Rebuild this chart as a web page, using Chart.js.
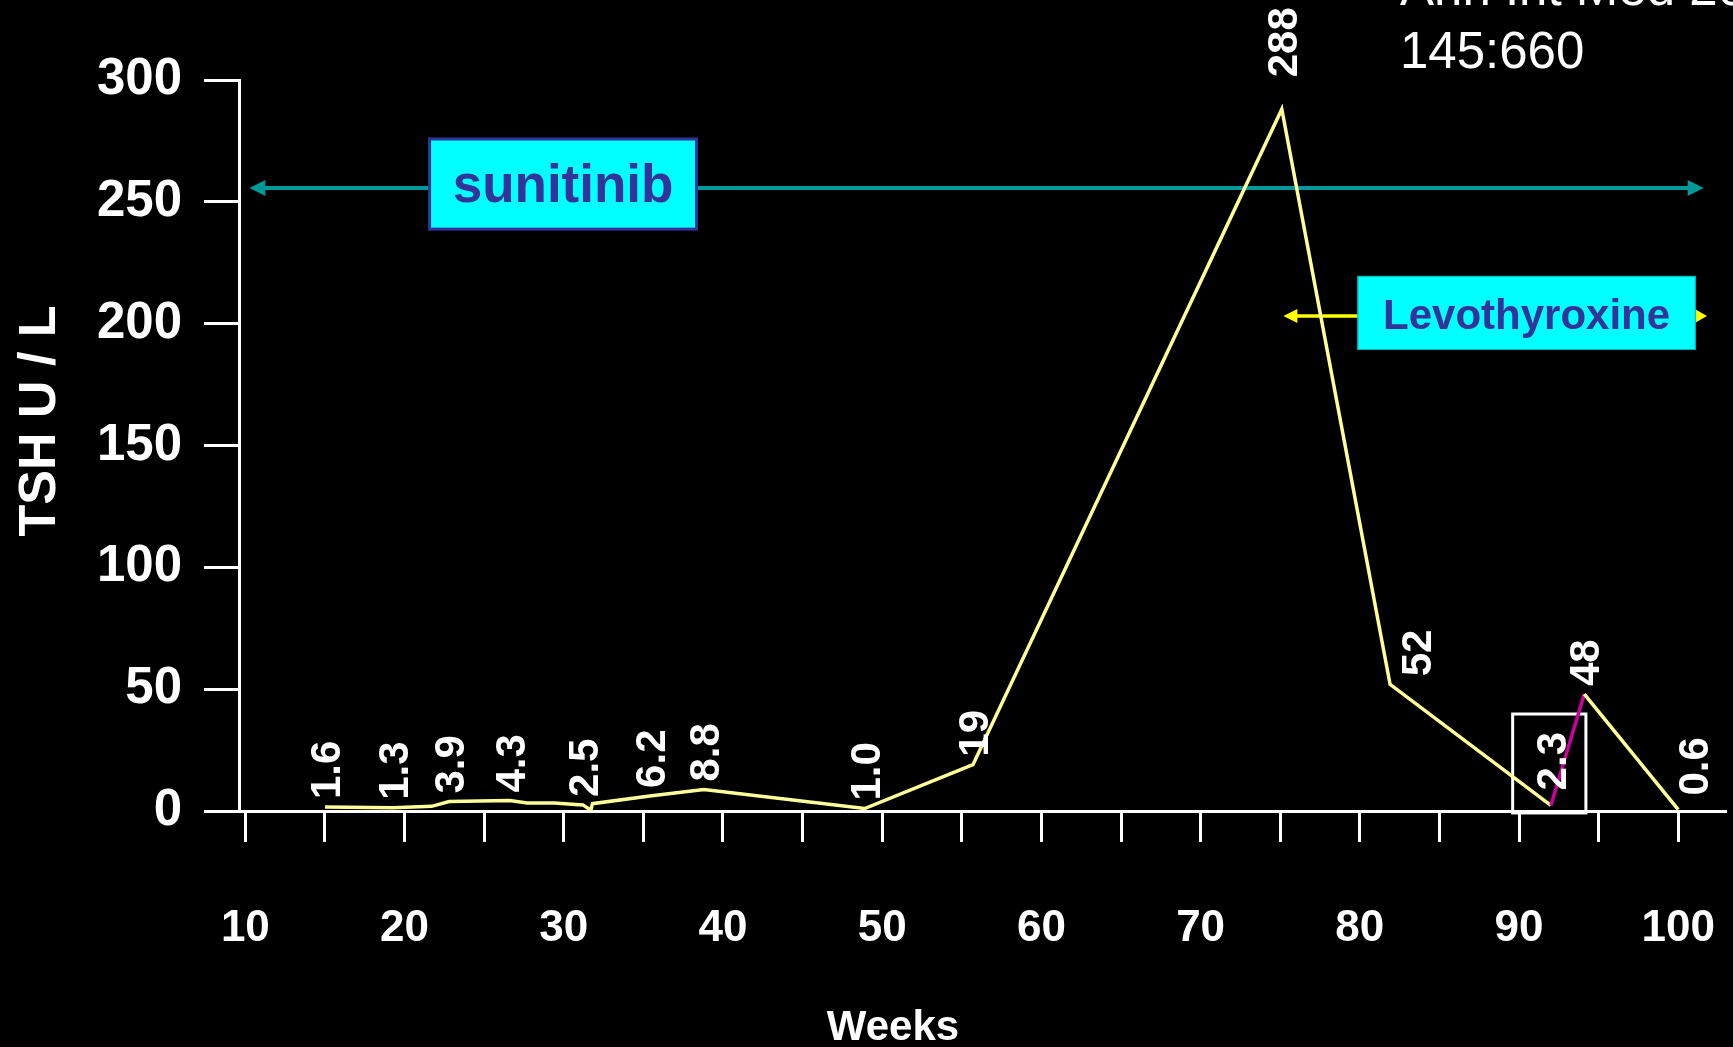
<!DOCTYPE html>
<html>
<head>
<meta charset="utf-8">
<script src="https://cdn.jsdelivr.net/npm/chart.js@4.4.1/dist/chart.umd.min.js"></script>
<style>
  html, body { margin: 0; padding: 0; background: #000; overflow: hidden; }
  #wrap { width: 1733px; height: 1047px; position: relative; }
</style>
</head>
<body>
<div id="wrap"><canvas id="c" width="1733" height="1047"></canvas></div>
<script>
// TSH readings over the course of treatment (weeks on therapy)
const weeks   = [15.0, 19.3, 21.7, 22.8, 26.6, 27.7, 29.4, 31.2, 31.7, 31.8, 35.4, 38.8, 48.9, 55.7, 75.1, 81.9, 92.0, 94.1, 100];
const tsh     = [1.6,  1.3,  1.9,  3.9,  4.3,  3.3,  3.3,  2.5,  0.3,  3.0,  6.2,  8.8,  1.0,  19,   288,  52,   2.3,  48,   0.6];
const tshText = ['1.6','1.3','',   '3.9','4.3','',   '',   '2.5','',   '',   '6.2','8.8','1.0','19', '288','52', '2.3','48', '0.6'];

// axis ticks
const xTickWeeks  = [10, 15, 20, 25, 30, 35, 40, 45, 50, 55, 60, 65, 70, 75, 80, 85, 90, 95, 100];
const xLabelWeeks = [10, 20, 30, 40, 50, 60, 70, 80, 90, 100];
const yTickValues = [0, 50, 100, 150, 200, 250, 300];

const FONT = '"Liberation Sans", Arial, Helvetica, sans-serif';
const YELLOW = '#ffff99';
const MAGENTA = '#cc00a0';
const CYAN = '#00ffff';
const NAVY = '#333399';

// the segment from the 2.3 reading up to the 48 reading is drawn in magenta
const riseIdx = tshText.indexOf('2.3');

function arrowHead(ctx, tipX, y, dir, len, half) {
  ctx.beginPath();
  ctx.moveTo(tipX, y);
  ctx.lineTo(tipX - dir * len, y - half);
  ctx.lineTo(tipX - dir * len, y + half);
  ctx.closePath();
  ctx.fill();
}

const overlay = {
  id: 'overlay',
  beforeDatasetsDraw(chart) {
    const { ctx, scales: { x, y } } = chart;
    ctx.save();

    // sunitinib treatment span
    const sy = y.getPixelForValue(255.7);
    const sx0 = x.getPixelForValue(10.25), sx1 = x.getPixelForValue(101.6);
    ctx.strokeStyle = '#009999';
    ctx.fillStyle = '#009999';
    ctx.lineWidth = 4;
    ctx.beginPath(); ctx.moveTo(sx0 + 10, sy); ctx.lineTo(sx1 - 10, sy); ctx.stroke();
    arrowHead(ctx, sx0, sy, -1, 16, 8);
    arrowHead(ctx, sx1, sy, 1, 16, 8);

    const bx0 = x.getPixelForValue(21.57), bx1 = x.getPixelForValue(38.34);
    const by0 = y.getPixelForValue(275.8), by1 = y.getPixelForValue(238.8);
    ctx.fillStyle = CYAN;
    ctx.fillRect(bx0, by0, bx1 - bx0, by1 - by0);
    ctx.strokeStyle = NAVY;
    ctx.lineWidth = 3;
    ctx.strokeRect(bx0, by0, bx1 - bx0, by1 - by0);
    ctx.fillStyle = NAVY;
    ctx.font = 'bold 53px ' + FONT;
    ctx.textAlign = 'center';
    ctx.textBaseline = 'alphabetic';
    ctx.fillText('sunitinib', (bx0 + bx1) / 2, by0 + 63);

    // levothyroxine span
    const ly = y.getPixelForValue(203.1);
    const lx0 = x.getPixelForValue(75.2), lx1 = x.getPixelForValue(101.8);
    ctx.strokeStyle = '#ffff00';
    ctx.fillStyle = '#ffff00';
    ctx.lineWidth = 3.5;
    ctx.beginPath(); ctx.moveTo(lx0 + 10, ly); ctx.lineTo(lx1 - 10, ly); ctx.stroke();
    arrowHead(ctx, lx0, ly, -1, 14, 7);
    arrowHead(ctx, lx1, ly, 1, 12, 7);

    const kx0 = x.getPixelForValue(79.85), kx1 = x.getPixelForValue(101.1);
    const ky0 = y.getPixelForValue(219.6), ky1 = y.getPixelForValue(189.2);
    ctx.fillStyle = CYAN;
    ctx.fillRect(kx0, ky0, kx1 - kx0, ky1 - ky0);
    ctx.strokeStyle = '#00b3b3';
    ctx.lineWidth = 1;
    ctx.strokeRect(kx0 + 0.5, ky0 + 0.5, kx1 - kx0 - 1, ky1 - ky0 - 1);
    ctx.fillStyle = NAVY;
    ctx.font = 'bold 42px ' + FONT;
    ctx.fillText('Levothyroxine', (kx0 + kx1) / 2, ky0 + 53);

    // highlight around the 2.3 reading
    const hx0 = x.getPixelForValue(89.6), hx1 = x.getPixelForValue(94.2);
    const hy0 = y.getPixelForValue(39.8), hy1 = y.getPixelForValue(-0.8);
    ctx.strokeStyle = '#ffffff';
    ctx.lineWidth = 3;
    ctx.strokeRect(hx0, hy0, hx1 - hx0, hy1 - hy0);

    ctx.restore();
  },
  afterDatasetsDraw(chart) {
    const { ctx } = chart;
    const meta = chart.getDatasetMeta(0);
    const nudge = { '52': [26, 0], '0.6': [15, -6], '288': [0, -24], '2.3': [0, -7] };
    ctx.save();
    ctx.fillStyle = '#ffffff';
    ctx.font = 'bold 42px ' + FONT;
    ctx.textAlign = 'left';
    ctx.textBaseline = 'alphabetic';
    tshText.forEach((t, i) => {
      if (!t) return;
      const p = meta.data[i];
      const [dx, dy] = nudge[t] || [0, 0];
      ctx.save();
      ctx.translate(p.x + 15 + dx, p.y - 8 + dy);
      ctx.rotate(-Math.PI / 2);
      ctx.fillText(t, 0, 0);
      ctx.restore();
    });

    // axis titles
    ctx.font = 'bold 52px ' + FONT;
    ctx.textAlign = 'center';
    ctx.save();
    ctx.translate(55, 421);
    ctx.rotate(-Math.PI / 2);
    ctx.fillText('TSH U / L', 0, 0);
    ctx.restore();
    ctx.font = 'bold 42px ' + FONT;
    ctx.fillText('Weeks', 893, 1040);

    // citation
    ctx.font = '51px ' + FONT;
    ctx.textAlign = 'left';
    ctx.fillText('Ann Int Med 2006;', 1400, 5);
    ctx.fillText('145:660', 1400, 68);
    ctx.restore();
  }
};

new Chart(document.getElementById('c'), {
  type: 'scatter',
  data: {
    datasets: [{
      label: 'TSH',
      data: weeks.map((w, i) => ({ x: w, y: tsh[i] })),
      showLine: true,
      borderColor: YELLOW,
      borderWidth: 3.5,
      pointRadius: 0,
      tension: 0,
      segment: {
        borderColor: c => (c.p0DataIndex === riseIdx ? MAGENTA : YELLOW)
      }
    }]
  },
  options: {
    responsive: false,
    animation: false,
    devicePixelRatio: 1,
    layout: { padding: { top: 80, right: 7, left: 0, bottom: 0 } },
    plugins: { legend: { display: false }, tooltip: { enabled: false } },
    scales: {
      x: {
        type: 'linear',
        min: 9.6,
        max: 103,
        afterBuildTicks: s => { s.ticks = xTickWeeks.map(v => ({ value: v })); },
        afterFit: s => { s.height = 236; s.paddingLeft = 0; s.paddingRight = 0; },
        ticks: {
          autoSkip: false,
          maxRotation: 0,
          color: '#ffffff',
          padding: 60,
          font: { family: FONT, size: 44, weight: 'bold' },
          callback: v => (xLabelWeeks.includes(v) ? String(v) : '')
        },
        grid: { drawOnChartArea: false, drawTicks: true, tickLength: 31, tickWidth: 3, tickColor: '#ffffff', color: '#ffffff' },
        border: { display: true, color: '#ffffff', width: 3 }
      },
      y: {
        type: 'linear',
        min: 0,
        max: 300,
        afterBuildTicks: s => { s.ticks = yTickValues.map(v => ({ value: v })); },
        afterFit: s => { s.width = 239; s.paddingTop = 0; s.paddingBottom = 0; },
        ticks: {
          color: '#ffffff',
          padding: 22,
          font: { family: FONT, size: 51, weight: 'bold' }
        },
        grid: { drawOnChartArea: false, drawTicks: true, tickLength: 35, tickWidth: 3, tickColor: '#ffffff', color: '#ffffff' },
        border: { display: true, color: '#ffffff', width: 3 }
      }
    }
  },
  plugins: [overlay]
});
</script>
</body>
</html>
